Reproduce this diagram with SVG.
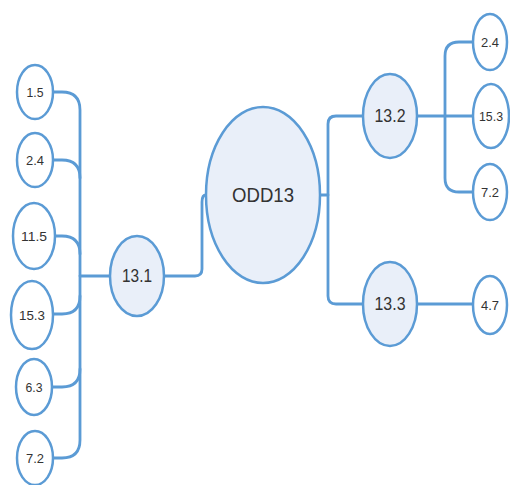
<svg xmlns="http://www.w3.org/2000/svg" width="510" height="485" viewBox="0 0 510 485">
<style>
.c{fill:none;stroke:#5b9bd5;stroke-width:2.8;stroke-linecap:round}
.s{fill:#ffffff;stroke:#5b9bd5;stroke-width:2.5}
.m{fill:#e9eff9;stroke:#5b9bd5;stroke-width:2.5}
text{font-family:"Liberation Sans",Arial,sans-serif;fill:#333333;text-anchor:middle;dominant-baseline:central}
.t1{font-size:13px}
.t2{font-size:18px}
.t3{font-size:20px}
</style>
<rect width="510" height="485" fill="#ffffff"/>
<g id="connectors">
<path class="c" d="M53,92 H62 Q80,92 80,110 V440 Q80,458 62,458 H53"/>
<path class="c" d="M53,160 H62 Q80,160 80,178"/>
<path class="c" d="M55,236 H62 Q80,236 80,254"/>
<path class="c" d="M53,314 H62 Q80,314 80,296"/>
<path class="c" d="M52,387 H62 Q80,387 80,369"/>
<path class="c" d="M80,276 H110"/>
<path class="c" d="M164,276 H195 Q202,276 202,269 V202 Q202,195 206,195"/>
<path class="c" d="M319,195 H328"/>
<path class="c" d="M363,116 H336 Q328,116 328,124 V296 Q328,304 336,304 H363"/>
<path class="c" d="M418,116 H473"/>
<path class="c" d="M473,42 H459 Q445,42 445,56 V178 Q445,192 459,192 H473"/>
<path class="c" d="M418,304 H473"/>
</g>
<g id="n-odd13"><ellipse class="m" cx="263" cy="195" rx="57" ry="88"/><text class="t3" x="263" y="195" textLength="62" lengthAdjust="spacingAndGlyphs">ODD13</text></g>
<g id="n-13-1"><ellipse class="m" cx="137" cy="276" rx="27" ry="40"/><text class="t2" x="137" y="276" textLength="30" lengthAdjust="spacingAndGlyphs">13.1</text></g>
<g id="n-13-2"><ellipse class="m" cx="390" cy="116" rx="27" ry="42"/><text class="t2" x="390" y="116" textLength="31" lengthAdjust="spacingAndGlyphs">13.2</text></g>
<g id="n-13-3"><ellipse class="m" cx="390" cy="304" rx="27" ry="42"/><text class="t2" x="390" y="304" textLength="31" lengthAdjust="spacingAndGlyphs">13.3</text></g>
<g id="n-l-1-5"><ellipse class="s" cx="35" cy="92" rx="18" ry="27"/><text class="t1" x="35" y="92" textLength="17" lengthAdjust="spacingAndGlyphs">1.5</text></g>
<g id="n-l-2-4"><ellipse class="s" cx="35" cy="160" rx="18" ry="27"/><text class="t1" x="35" y="160" textLength="18" lengthAdjust="spacingAndGlyphs">2.4</text></g>
<g id="n-l-11-5"><ellipse class="s" cx="34" cy="236" rx="21" ry="33"/><text class="t1" x="34" y="236" textLength="26" lengthAdjust="spacingAndGlyphs">11.5</text></g>
<g id="n-l-15-3"><ellipse class="s" cx="32" cy="315" rx="21" ry="34"/><text class="t1" x="32" y="315" textLength="26" lengthAdjust="spacingAndGlyphs">15.3</text></g>
<g id="n-l-6-3"><ellipse class="s" cx="34" cy="387" rx="18" ry="28"/><text class="t1" x="34" y="387" textLength="17" lengthAdjust="spacingAndGlyphs">6.3</text></g>
<g id="n-l-7-2"><ellipse class="s" cx="35" cy="458" rx="18" ry="27"/><text class="t1" x="35" y="458" textLength="18" lengthAdjust="spacingAndGlyphs">7.2</text></g>
<g id="n-r-2-4"><ellipse class="s" cx="490" cy="42" rx="17" ry="28"/><text class="t1" x="490" y="42" textLength="18" lengthAdjust="spacingAndGlyphs">2.4</text></g>
<g id="n-r-15-3"><ellipse class="s" cx="491" cy="116" rx="18" ry="32"/><text class="t1" x="491" y="116" textLength="24" lengthAdjust="spacingAndGlyphs">15.3</text></g>
<g id="n-r-7-2"><ellipse class="s" cx="490" cy="192" rx="17" ry="28"/><text class="t1" x="490" y="192" textLength="18" lengthAdjust="spacingAndGlyphs">7.2</text></g>
<g id="n-r-4-7"><ellipse class="s" cx="490" cy="305" rx="17" ry="29"/><text class="t1" x="490" y="305" textLength="18" lengthAdjust="spacingAndGlyphs">4.7</text></g>
</svg>
